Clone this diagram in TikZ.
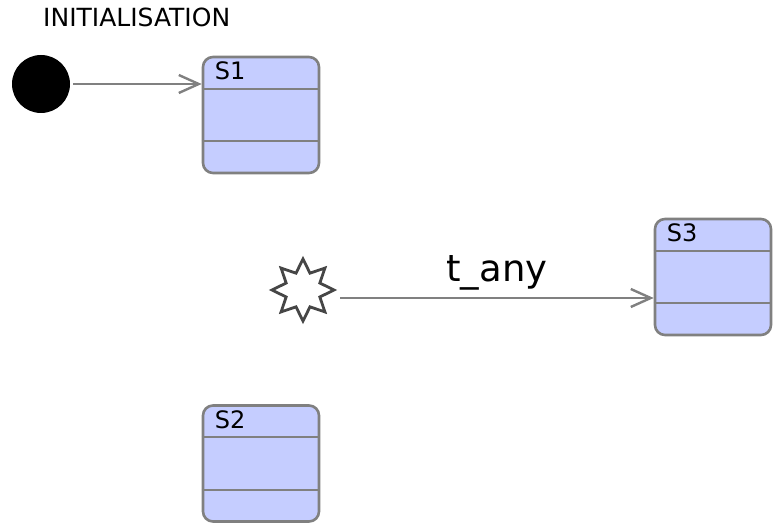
\documentclass[tikz,border=0pt]{standalone}
\usepackage{fontspec}
\setmainfont{DejaVu Sans}
\usetikzlibrary{positioning, shapes.geometric, arrows.meta, calc}
\definecolor{StateBlue}{RGB}{197, 205, 255}
\definecolor{EdgeGray}{RGB}{128, 128, 128}
\definecolor{StarGray}{RGB}{70, 70, 70}

\tikzset{
  state/.style={draw=EdgeGray, line width=2.6pt, fill=StateBlue, rounded corners=10pt,
    minimum width=116pt, minimum height=116pt, inner sep=0pt},
  statename/.style={anchor=north west, inner sep=0pt, font=\fontsize{24}{27}\selectfont},
  trans/.style={draw=EdgeGray, line width=2.4pt, -{Straight Barb[length=20pt, width=18pt]}}
}

\begin{document}
\begin{tikzpicture}[x=1pt, y=1pt]
    \useasboundingbox (0,0) rectangle (773,522);

    % Initial state
    \node[anchor=base west, inner sep=0pt, font=\fontsize{25}{28}\selectfont] (title) at (43,495) {INITIALISATION};
    \node[circle, fill=black, minimum size=58pt, inner sep=0pt] (init) at (41,438) {};

    % States with their compartments
    \foreach \st/\cx/\cy in {S1/261/407, S2/261/58.5, S3/713/245} {
      \node[state] (\st) at (\cx,\cy) {};
      \draw[EdgeGray, line width=2.2pt] ([yshift=-33pt]\st.north west) -- ([yshift=-33pt]\st.north east);
      \draw[EdgeGray, line width=2.2pt] ([yshift=33pt]\st.south west) -- ([yshift=33pt]\st.south east);
      \node[statename] at ([shift={(13,-6)}]\st.north west) {\st};
    }

    % Any-state trigger
    \node[star, star points=8, star point ratio=1.7, minimum size=62pt, inner sep=0pt,
      draw=StarGray, line width=2.8pt, fill=white] (any) at (303,232) {};

    % Transitions
    \draw[trans] ([xshift=3pt]init.east) -- (init -| S1.west);
    \coordinate (anyout) at ([shift={(3,-8)}]any.east);
    \draw[trans] (anyout) -- (anyout -| S3.west)
      node[midway, above=3pt, font=\fontsize{37}{40}\selectfont, text=black] {t\_any};
\end{tikzpicture}
\end{document}
